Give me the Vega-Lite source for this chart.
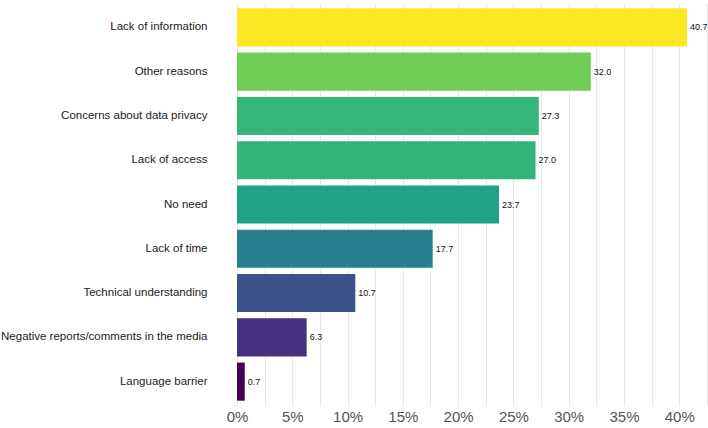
{
  "$schema": "https://vega.github.io/schema/vega-lite/v6.json",
  "autosize": "none",
  "padding": {"left": 237, "top": 3, "right": 0, "bottom": 22},
  "width": 471,
  "height": 403,
  "config": {
    "view": {"stroke": null},
    "font": "Liberation Sans"
  },
  "data": {
    "values": [
      {"reason": "Lack of information", "pct": 40.7},
      {"reason": "Other reasons", "pct": 32.0},
      {"reason": "Concerns about data privacy", "pct": 27.3},
      {"reason": "Lack of access", "pct": 27.0},
      {"reason": "No need", "pct": 23.7},
      {"reason": "Lack of time", "pct": 17.7},
      {"reason": "Technical understanding", "pct": 10.7},
      {"reason": "Negative reports/comments in the media", "pct": 6.3},
      {"reason": "Language barrier", "pct": 0.7}
    ]
  },
  "encoding": {
    "y": {
      "field": "reason",
      "type": "nominal",
      "sort": {"field": "pct", "order": "descending"},
      "scale": {"paddingInner": 0.14, "paddingOuter": 0.12},
      "axis": {
        "title": null,
        "domain": false,
        "ticks": false,
        "labelPadding": 30,
        "labelFontSize": 11.5,
        "labelColor": "#222222",
        "labelLimit": 300
      }
    },
    "x": {
      "field": "pct",
      "type": "quantitative",
      "scale": {"domain": [0, 42.6], "nice": false, "zero": true},
      "axis": {
        "title": null,
        "domain": false,
        "ticks": false,
        "values": [0, 2.5, 5, 7.5, 10, 12.5, 15, 17.5, 20, 22.5, 25, 27.5, 30, 32.5, 35, 37.5, 40, 42.5],
        "labelExpr": "datum.value % 5 == 0 ? datum.value + '%' : ''",
        "labelFlush": false,
        "labelOverlap": false,
        "labelFontSize": 15,
        "labelColor": "#555555",
        "labelPadding": 3,
        "grid": true,
        "gridColor": "#e8e8e8",
        "gridWidth": 1
      }
    }
  },
  "layer": [
    {
      "mark": {"type": "bar"},
      "encoding": {
        "color": {
          "field": "pct",
          "type": "quantitative",
          "scale": {"scheme": "viridis"},
          "legend": null
        }
      }
    },
    {
      "mark": {"type": "text", "align": "left", "dx": 3, "fontSize": 9, "color": "#111111"},
      "encoding": {
        "text": {"field": "pct", "type": "quantitative", "format": ".1f"}
      }
    }
  ]
}
